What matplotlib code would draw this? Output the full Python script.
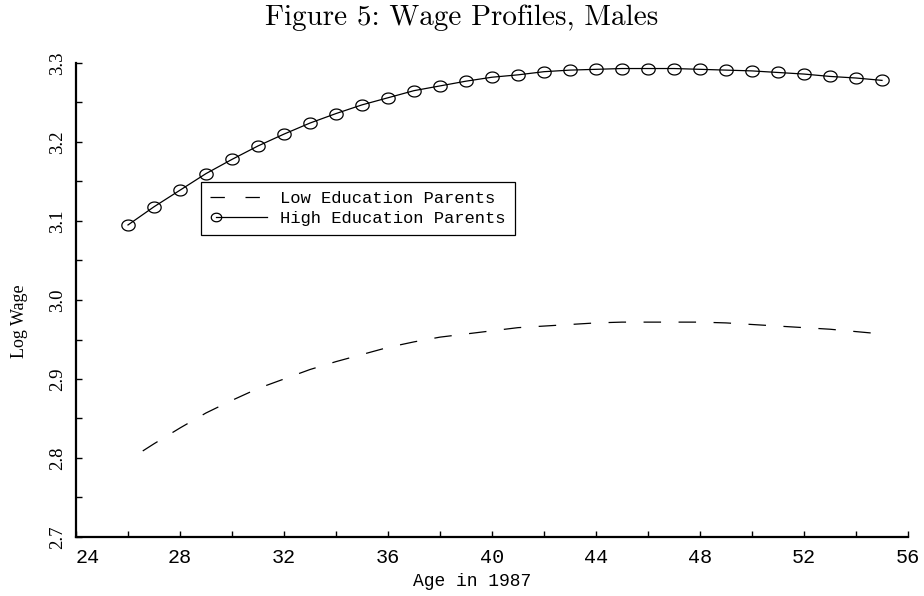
import numpy as np
import matplotlib
matplotlib.use("Agg")
import matplotlib.pyplot as plt
from matplotlib.path import Path
from matplotlib.legend_handler import HandlerLine2D
from matplotlib.ticker import MultipleLocator

# ---- data ----
ages = list(range(26, 56))
high_edu = [3.095, 3.118, 3.139, 3.160, 3.178, 3.195, 3.210, 3.224, 3.236, 3.247,
            3.256, 3.265, 3.271, 3.277, 3.282, 3.285, 3.289, 3.291, 3.292, 3.293,
            3.293, 3.293, 3.292, 3.291, 3.290, 3.288, 3.286, 3.283, 3.281, 3.278]
low_edu = [2.797, 2.818, 2.838, 2.857, 2.873, 2.888, 2.900, 2.912, 2.922, 2.931,
           2.940, 2.947, 2.953, 2.957, 2.961, 2.965, 2.967, 2.969, 2.971, 2.972,
           2.972, 2.972, 2.972, 2.971, 2.969, 2.967, 2.965, 2.963, 2.960, 2.957]
series_labels = ["Low Education Parents", "High Education Parents"]
xticks = [24, 28, 32, 36, 40, 44, 48, 52, 56]
yticks = [2.7, 2.8, 2.9, 3.0, 3.1, 3.2, 3.3]
title = "Figure 5: Wage Profiles, Males"
xlabel = "Age in 1987"
ylabel = "Log Wage"

W, H = 924, 596
fig = plt.figure(figsize=(W / 100, H / 100), dpi=100)
L, R, B, T = 76, 908, 537, 63
ax = fig.add_axes([L / W, 1 - B / H, (R - L) / W, (B - T) / H])

# ellipse marker (slightly wider than tall)
th = np.linspace(0, 2 * np.pi, 60)
ell = Path(np.column_stack([np.cos(th), 0.82 * np.sin(th)]), closed=True)

ax.plot(ages, low_edu, color='black', lw=0.9, linestyle=(14, (14, 14)),
        label=series_labels[0])
ax.plot(ages, high_edu, color='black', lw=0.9, marker=ell, markersize=9.6,
        markerfacecolor='none', markeredgecolor='black', markeredgewidth=0.9,
        label=series_labels[1])

ax.set_xlim(24, 56)
ax.set_ylim(2.7, 3.3)
for s in ['top', 'right']:
    ax.spines[s].set_visible(False)
for s in ['left', 'bottom']:
    ax.spines[s].set_linewidth(1.6)

ax.set_xticks(xticks)
ax.set_yticks(yticks)
ax.xaxis.set_minor_locator(MultipleLocator(2))
ax.yaxis.set_minor_locator(MultipleLocator(0.05))
ax.tick_params(which='both', direction='in', length=4, width=1, color='black')
ax.tick_params(axis='x', which='major', pad=8)
ax.tick_params(axis='y', which='major', pad=7)

ax.set_xticklabels([str(v) for v in xticks], family='Liberation Mono', fontsize=14.5)
ax.set_yticklabels([f"{v:.1f}" for v in yticks], family='Liberation Serif',
                   fontsize=13.5, rotation=90, va='center')
ax.get_xticklabels()[0].set_horizontalalignment('left')

fig.text(472 / W, 1 - 582 / H, xlabel, family='Liberation Mono', fontsize=13,
         ha='center', va='center')
fig.text(19 / W, 1 - 321 / H, ylabel, family='Liberation Serif', fontsize=13,
         rotation=90, ha='center', va='center')
fig.text(462 / W, 1 - 18 / H, title, family=['cmr10', 'DejaVu Serif'],
         fontsize=21, ha='center', va='center')


class LeftMarkerHandler(HandlerLine2D):
    def get_xdata(self, legend, xdescent, ydescent, width, height, fontsize):
        xdata = np.array([-xdescent + 0.1 * width, -xdescent + width])
        return xdata, xdata[:1]

    def create_artists(self, *args, **kwargs):
        arts = super().create_artists(*args, **kwargs)
        for a in arts:
            a.set_markevery([0])
        return arts


def upd_low(handle, orig):
    handle.update_from(orig)
    handle.set_linestyle((0, (11.5, 16.5)))


def upd_high(handle, orig):
    handle.update_from(orig)
    handle.set_markersize(7.5)


lines = ax.get_lines()
leg = ax.legend(handles=lines, labels=series_labels, loc='upper left',
                bbox_to_anchor=((201 - L) / (R - L), (B - 182) / (B - T)),
                prop={'family': 'Liberation Mono', 'size': 12.3},
                frameon=True, fancybox=False, shadow=False, framealpha=1,
                edgecolor='black', handlelength=3.3, handletextpad=0.8,
                borderpad=0.55, labelspacing=0.25, borderaxespad=0,
                handler_map={lines[0]: HandlerLine2D(update_func=upd_low),
                             lines[1]: LeftMarkerHandler(numpoints=2,
                                                         update_func=upd_high)})
leg.get_frame().set_linewidth(0.9)

fig.savefig('out.png', dpi=100)
